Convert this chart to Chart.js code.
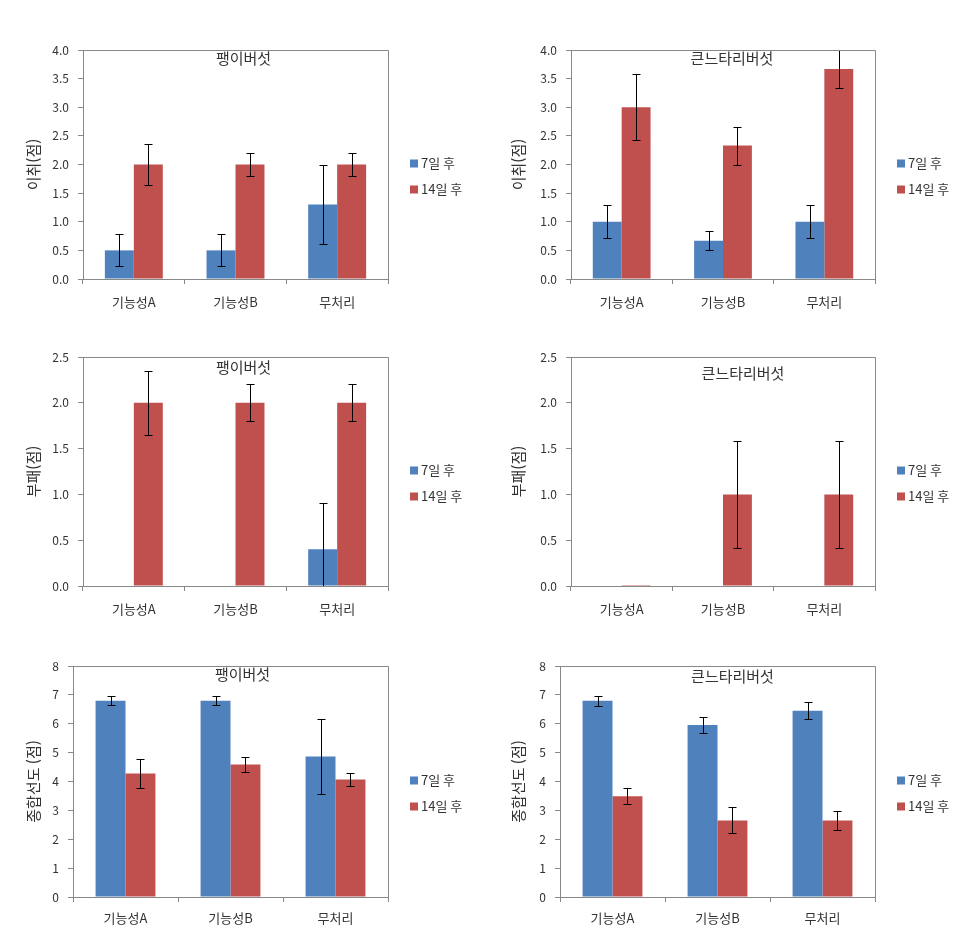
<!DOCTYPE html>
<html lang="ko">
<head>
<meta charset="utf-8">
<title>버섯 품질 평가</title>
<script src="https://cdn.jsdelivr.net/npm/chart.js@4.4.1/dist/chart.umd.min.js"></script>
<style>
    html, body { margin: 0; padding: 0; background: #fff; }
    body { width: 973px; height: 937px; position: relative; overflow: hidden; }
    canvas { position: absolute; }
</style>
</head>
<body>
<script>
// 항목과 계열
const categories = ['기능성A', '기능성B', '무처리'];
const seriesNames = ['7일 후', '14일 후'];

// 이취(점)
const offEnoki7 = [0.5, 0.5, 1.3];
const offEnoki7Err = [0.28, 0.28, 0.69];
const offEnoki14 = [2.0, 2.0, 2.0];
const offEnoki14Err = [0.35, 0.2, 0.2];
const offKing7 = [1.0, 0.67, 1.0];
const offKing7Err = [0.29, 0.17, 0.29];
const offKing14 = [3.0, 2.33, 3.67];
const offKing14Err = [0.58, 0.33, 0.33];

// 부패(점)
const decayEnoki7 = [0, 0, 0.4];
const decayEnoki7Err = [0, 0, 0.51];
const decayEnoki14 = [2.0, 2.0, 2.0];
const decayEnoki14Err = [0.35, 0.2, 0.2];
const decayKing7 = [0, 0, 0];
const decayKing7Err = [0, 0, 0];
const decayKing14 = [0.01, 1.0, 1.0];
const decayKing14Err = [0, 0.58, 0.58];

// 종합선도 (점)
const freshEnoki7 = [6.8, 6.8, 4.87];
const freshEnoki7Err = [0.15, 0.15, 1.3];
const freshEnoki14 = [4.28, 4.59, 4.07];
const freshEnoki14Err = [0.5, 0.25, 0.23];
const freshKing7 = [6.8, 5.96, 6.45];
const freshKing7Err = [0.17, 0.29, 0.3];
const freshKing14 = [3.49, 2.65, 2.65];
const freshKing14Err = [0.28, 0.45, 0.33];

// 축 눈금
const yTicks14 = [0, 4, 0.5];   // 최소, 최대, 간격
const yTicks25 = [0, 2.5, 0.5];
const yTicks8 = [0, 8, 1];

const panels = [
    { title: '팽이버섯', yTitle: '이취(점)', ticks: yTicks14, dec: 1, s7: offEnoki7, e7: offEnoki7Err, s14: offEnoki14, e14: offEnoki14Err },
    { title: '큰느타리버섯', yTitle: '이취(점)', ticks: yTicks14, dec: 1, s7: offKing7, e7: offKing7Err, s14: offKing14, e14: offKing14Err },
    { title: '팽이버섯', yTitle: '부패(점)', ticks: yTicks25, dec: 1, s7: decayEnoki7, e7: decayEnoki7Err, s14: decayEnoki14, e14: decayEnoki14Err },
    { title: '큰느타리버섯', yTitle: '부패(점)', ticks: yTicks25, dec: 1, s7: decayKing7, e7: decayKing7Err, s14: decayKing14, e14: decayKing14Err },
    { title: '팽이버섯', yTitle: '종합선도 (점)', ticks: yTicks8, dec: 0, s7: freshEnoki7, e7: freshEnoki7Err, s14: freshEnoki14, e14: freshEnoki14Err },
    { title: '큰느타리버섯', yTitle: '종합선도 (점)', ticks: yTicks8, dec: 0, s7: freshKing7, e7: freshKing7Err, s14: freshKing14, e14: freshKing14Err }
];

// 각 그래프의 위치 (페이지 좌표)
const frames = [
    { left: 0,   width: 480, plotLeft: 83,  plotTop: 50,  plotRight: 388, plotBottom: 279, yGap: 50, tdx: 8,  tdy: 8,  labelPad: 10 },
    { left: 480, width: 493, plotLeft: 571, plotTop: 50,  plotRight: 875, plotBottom: 279, yGap: 53, tdx: 9,  tdy: 8,  labelPad: 10 },
    { left: 0,   width: 480, plotLeft: 83,  plotTop: 357, plotRight: 388, plotBottom: 586, yGap: 50, tdx: 8,  tdy: 10, labelPad: 10 },
    { left: 480, width: 493, plotLeft: 571, plotTop: 357, plotRight: 875, plotBottom: 586, yGap: 53, tdx: 20, tdy: 16, labelPad: 10 },
    { left: 0,   width: 480, plotLeft: 73,  plotTop: 666, plotRight: 388, plotBottom: 897, yGap: 40, tdx: 12, tdy: 8,  labelPad: 8 },
    { left: 480, width: 493, plotLeft: 560, plotTop: 666, plotRight: 875, plotBottom: 897, yGap: 42, tdx: 15, tdy: 10, labelPad: 8 }
];

const BLUE = '#4F81BD';
const RED = '#C0504D';
const AXIS = '#888888';
const TEXT = '#333333';
const FONT = '"Noto Sans CJK KR", "Noto Sans", sans-serif';

// 오차 막대
const errorBars = {
    id: 'errorBars',
    afterDatasetsDraw(chart) {
        const ctx = chart.ctx;
        const y = chart.scales.y;
        const area = chart.chartArea;
        ctx.save();
        ctx.beginPath();
        ctx.rect(area.left, area.top - 1, area.right - area.left, area.bottom - area.top + 1);
        ctx.clip();
        ctx.strokeStyle = '#000';
        ctx.lineWidth = 1;
        chart.data.datasets.forEach((ds, i) => {
            const meta = chart.getDatasetMeta(i);
            meta.data.forEach((bar, j) => {
                const err = ds.errors[j];
                if (!err) return;
                const v = ds.data[j];
                const x = Math.round(bar.x) + 0.5;
                const top = Math.round(y.getPixelForValue(v + err)) + 0.5;
                const low = Math.max(0, v - err);
                const bot = Math.round(y.getPixelForValue(low)) + 0.5;
                ctx.beginPath();
                ctx.moveTo(x, top);
                ctx.lineTo(x, bot);
                ctx.moveTo(x - 4, top);
                ctx.lineTo(x + 4, top);
                if (v - err > 0) {
                    ctx.moveTo(x - 4, bot);
                    ctx.lineTo(x + 4, bot);
                }
                ctx.stroke();
            });
        });
        ctx.restore();
    }
};

// 그림 영역 테두리, 제목, 범례
const panelText = {
    id: 'panelText',
    afterDraw(chart, args, opts) {
        const ctx = chart.ctx;
        const a = chart.chartArea;
        ctx.save();
        ctx.strokeStyle = AXIS;
        ctx.lineWidth = 1;
        ctx.beginPath();
        ctx.moveTo(Math.round(a.left) + 0.5, Math.round(a.top) + 0.5);
        ctx.lineTo(Math.round(a.right) + 0.5, Math.round(a.top) + 0.5);
        ctx.lineTo(Math.round(a.right) + 0.5, Math.round(a.bottom) + 0.5);
        ctx.stroke();

        ctx.fillStyle = TEXT;
        ctx.font = '15px ' + FONT;
        ctx.textAlign = 'center';
        ctx.textBaseline = 'middle';
        ctx.fillText(opts.title, (a.left + a.right) / 2 + opts.dx, a.top + opts.dy);

        const mid = (a.top + a.bottom) / 2;
        const rows = [mid - 1, mid + 25];
        ctx.font = '13px ' + FONT;
        ctx.textAlign = 'left';
        chart.data.datasets.forEach((ds, i) => {
            const ry = rows[i];
            ctx.fillStyle = ds.backgroundColor;
            ctx.fillRect(a.right + 22, ry - 4, 8, 8);
            ctx.fillStyle = TEXT;
            ctx.fillText(ds.label, a.right + 33, ry);
        });
        ctx.restore();
    }
};

function drawPanel(p, f) {
    const canvas = document.createElement('canvas');
    const top = f.plotTop - 30;
    const height = f.plotBottom - top + 45;
    canvas.width = f.width;
    canvas.height = height;
    canvas.style.left = f.left + 'px';
    canvas.style.top = top + 'px';
    canvas.style.width = f.width + 'px';
    canvas.style.height = height + 'px';
    document.body.appendChild(canvas);

    const yW = f.plotLeft - f.left;
    const titleFont = { family: FONT, size: 15 };

    new Chart(canvas, {
        type: 'bar',
        data: {
            labels: categories,
            datasets: [
                { label: seriesNames[0], data: p.s7, errors: p.e7, backgroundColor: BLUE },
                { label: seriesNames[1], data: p.s14, errors: p.e14, backgroundColor: RED }
            ]
        },
        options: {
            responsive: false,
            animation: false,
            devicePixelRatio: 1,
            categoryPercentage: 0.57,
            barPercentage: 1,
            layout: {
                padding: { top: 30, left: 0, bottom: 0, right: f.left + f.width - f.plotRight }
            },
            plugins: {
                legend: { display: false },
                tooltip: { enabled: false },
                panelText: { title: p.title, dx: f.tdx, dy: f.tdy }
            },
            scales: {
                x: {
                    grid: { drawOnChartArea: false, drawTicks: true, tickLength: 5, color: AXIS, offset: true },
                    border: { color: AXIS },
                    ticks: { font: { family: FONT, size: 13 }, color: TEXT, padding: f.labelPad, maxRotation: 0 },
                    afterFit: s => { s.height = 45; }
                },
                y: {
                    min: p.ticks[0],
                    max: p.ticks[1],
                    grid: { drawOnChartArea: false, drawTicks: true, tickLength: 5, color: AXIS },
                    border: { color: AXIS },
                    ticks: {
                        stepSize: p.ticks[2],
                        font: { family: FONT, size: 12 },
                        color: TEXT,
                        padding: 9,
                        callback: v => Number(v).toFixed(p.dec)
                    },
                    title: {
                        display: true,
                        text: p.yTitle,
                        font: titleFont,
                        color: TEXT,
                        padding: { top: yW - f.yGap - 9, bottom: 0 }
                    },
                    afterFit: s => { s.width = yW; }
                }
            }
        },
        plugins: [errorBars, panelText]
    });
}

window.addEventListener('load', function() {
    panels.forEach((p, i) => drawPanel(p, frames[i]));
});
</script>
</body>
</html>
